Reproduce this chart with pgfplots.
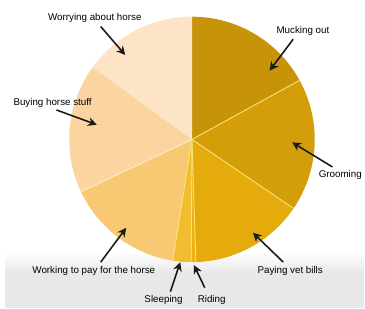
\documentclass[border=0pt]{standalone}
\usepackage{pgfplots}
\pgfplotsset{compat=1.18}
\usepackage{pgfplotstable}
\usetikzlibrary{arrows.meta}
\usepackage{fontspec}
\setmainfont{Liberation Sans}

% share of time, percent, clockwise from the top
\pgfplotstableread[col sep=comma]{
name,value
Mucking out,17
Grooming,17.5
Paying vet bills,15
Riding,0.6
Sleeping,2.4
Working to pay for the horse,15.5
Buying horse stuff,17
Worrying about horse,15
}\piedata

\definecolor{s0}{RGB}{198,147,9}
\definecolor{s1}{RGB}{212,158,10}
\definecolor{s2}{RGB}{229,171,12}
\definecolor{s3}{RGB}{236,178,20}
\definecolor{s4}{RGB}{242,188,48}
\definecolor{s5}{RGB}{249,200,115}
\definecolor{s6}{RGB}{251,213,160}
\definecolor{s7}{RGB}{253,228,198}
\definecolor{sepyel}{RGB}{246,228,120}
\definecolor{seppale}{RGB}{252,232,190}
\definecolor{ink}{RGB}{25,25,25}
\definecolor{band}{RGB}{232,232,232}

\begin{document}
\gdef\cum{90}
\pgfplotstableforeachcolumnelement{value}\of\piedata\as\v{%
  \pgfmathsetmacro\e{\cum-3.6*\v}%
  \expandafter\xdef\csname sa\pgfplotstablerow\endcsname{\cum}%
  \expandafter\xdef\csname ea\pgfplotstablerow\endcsname{\e}%
  \xdef\cum{\e}%
}
\begin{tikzpicture}
\begin{axis}[x=1bp, y=1bp, xmin=0, xmax=365, ymin=0, ymax=314,
  y dir=reverse, hide axis, clip=false,
  every node/.style={font=\bfseries\fontsize{8.3bp}{10bp}\selectfont, text=ink, inner sep=0pt}]
\addplot[draw=none] coordinates {(0,0) (365,314)};
% background
\fill[white] (axis cs:0,0) rectangle (axis cs:365,314);
\shade[top color=white, bottom color=band] (axis cs:0,256) rectangle (axis cs:365,278);
\fill[band] (axis cs:0,278) rectangle (axis cs:365,314);
% slices
\pgfplotsinvokeforeach{0,...,7}{
  \fill[s#1] (axis cs:190,142) -- ++(\csname sa#1\endcsname:125bp)
    arc[start angle=\csname sa#1\endcsname, end angle=\csname ea#1\endcsname, radius=125bp] -- cycle;
}
\pgfplotsinvokeforeach{1,...,5}{
  \draw[sepyel, line width=0.9bp] (axis cs:190,142) -- ++(\csname sa#1\endcsname:125bp);
}
\draw[seppale, line width=1.2bp] (axis cs:190,142) -- ++(\csname sa6\endcsname:125bp);
% labels
\node at (axis cs:91,18) {Worrying about horse};
\node at (axis cs:303,32) {Mucking out};
\node at (axis cs:48,105) {Buying horse stuff};
\node at (axis cs:341,178) {Grooming};
\node at (axis cs:90,276) {Working to pay for the horse};
\node at (axis cs:290,276) {Paying vet bills};
\node at (axis cs:161,305) {Sleeping};
\node at (axis cs:210,305) {Riding};
% arrows
\begin{scope}[ink, line width=1.6bp, -{Stealth[open, length=9bp, width=9bp, line width=1.6bp]}]
\draw (axis cs:97,27) -- (axis cs:122,56);
\draw (axis cs:293,40) -- (axis cs:269,72);
\draw (axis cs:52,112) -- (axis cs:93,127);
\draw (axis cs:333,170) -- (axis cs:292,145);
\draw (axis cs:97,267) -- (axis cs:123,232);
\draw (axis cs:283,267) -- (axis cs:252,237);
\draw (axis cs:168,297) -- (axis cs:178,267);
\draw (axis cs:203,293) -- (axis cs:192,270);
\end{scope}
\end{axis}
\end{tikzpicture}
\end{document}
